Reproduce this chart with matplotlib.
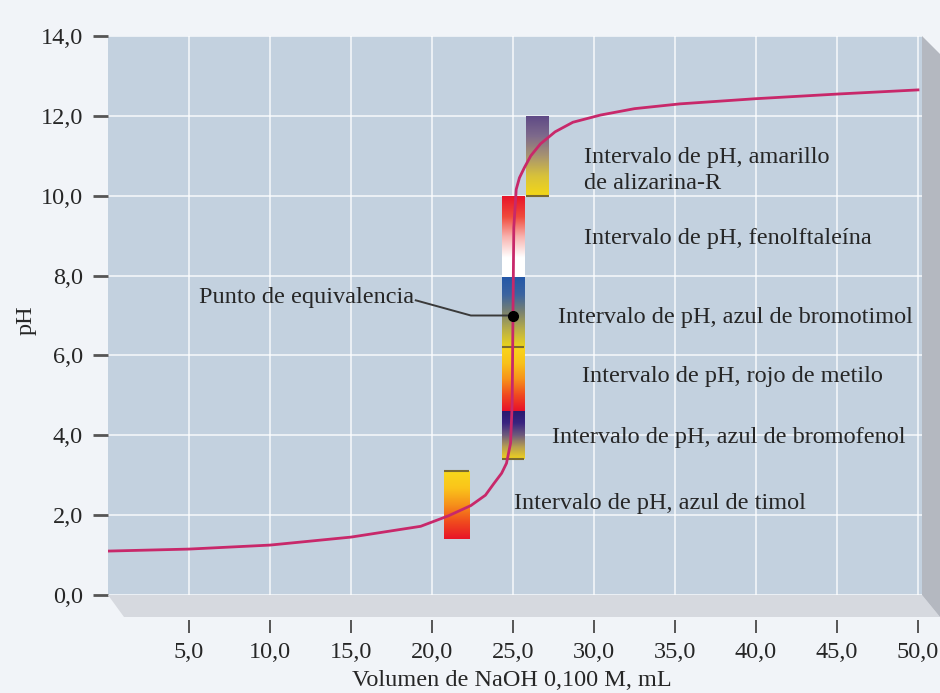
import matplotlib.pyplot as plt
import numpy as np
from matplotlib.colors import LinearSegmentedColormap
from matplotlib.patches import Polygon

plt.rcParams["font.family"] = ["Liberation Serif", "DejaVu Serif"]

# curva de valoración
volumen = [0, 5, 10, 15, 19.3, 21, 22.4, 23.3, 23.8, 24.3, 24.6, 24.85, 24.95,
           25.0, 25.05, 25.2, 25.4, 25.7, 26.1, 26.7, 27.6, 28.7, 30.4, 32.5,
           35.3, 40, 45.2, 50]
ph = [1.10, 1.15, 1.25, 1.45, 1.72, 1.98, 2.24, 2.50, 2.78, 3.05, 3.30, 3.8, 4.8,
      7.0, 9.2, 10.16, 10.45, 10.70, 11.0, 11.30, 11.60, 11.84, 12.02, 12.18,
      12.30, 12.43, 12.55, 12.65]

punto_eq = (25.0, 7.0)

# intervalos de viraje de los indicadores
indicadores = ["amarillo\nde alizarina-R", "fenolftaleína", "azul de bromotimol",
               "rojo de metilo", "azul de bromofenol", "azul de timol"]
ind_vol = [(25.8, 27.2), (24.3, 25.7), (24.3, 25.7), (24.3, 25.7), (24.3, 25.7), (20.75, 22.3)]
ind_ph = [(10.0, 12.0), (7.95, 10.0), (6.2, 7.95), (4.6, 6.2), (3.4, 4.6), (1.4, 3.1)]
# colores de abajo hacia arriba
ind_colores = [
    ["#f4d816", "#d8c23a", "#a89470", "#7e6a8c", "#5f4a86"],
    ["#ffffff", "#ffffff", "#f8b4b0", "#f04a3c", "#e8142a"],
    ["#ecd41c", "#b8ae48", "#7a8270", "#3c64a0", "#2458a8"],
    ["#e8102a", "#f04a20", "#f7921a", "#f9c21a", "#f8d61c"],
    ["#f0d21e", "#b8a050", "#6e5a7c", "#3a2480", "#2a1a70"],
    ["#e81428", "#f04a1e", "#f6901a", "#fbc41a", "#f7d81c"],
]

ticks_x = [5, 10, 15, 20, 25, 30, 35, 40, 45, 50]
ticks_y = [0, 2, 4, 6, 8, 10, 12, 14]

W, H = 940, 693
fig = plt.figure(figsize=(9.4, 6.93), dpi=100, facecolor="#f1f4f8")
ax = fig.add_axes([108 / W, 1 - 595 / H, (922 - 108) / W, (595 - 36) / H])
ax.set_facecolor("#c3d1df")


def px(x, y):
    return (x / W, 1 - y / H)


# caras en perspectiva de la caja
cara_inf = Polygon([px(108, 595), px(922, 595), px(940, 617), px(124, 617)],
                   closed=True, transform=fig.transFigure, facecolor="#d6d9df",
                   edgecolor="none", zorder=0)
cara_der = Polygon([px(922, 36), px(940, 54), px(940, 617), px(922, 595)],
                   closed=True, transform=fig.transFigure, facecolor="#b4b8c0",
                   edgecolor="none", zorder=0)
fig.patches.extend([cara_inf, cara_der])

ax.grid(True, color="white", linewidth=1.2, alpha=0.8)
ax.set_axisbelow(True)

rampa = np.linspace(0, 1, 256).reshape(-1, 1)
for nombre, (x0, x1), (y0, y1), cols in zip(indicadores, ind_vol, ind_ph, ind_colores):
    cmap = LinearSegmentedColormap.from_list(nombre, cols)
    ax.imshow(rampa, cmap=cmap, extent=[x0, x1, y0, y1], origin="lower",
              aspect="auto", interpolation="bilinear", zorder=3)

# bordes oscuros de algunas barras
ax.hlines([ind_ph[5][1], ind_ph[4][0], ind_ph[3][1], ind_ph[0][0]],
          [ind_vol[5][0], ind_vol[4][0], ind_vol[3][0], ind_vol[0][0]],
          [ind_vol[5][1], ind_vol[4][1], ind_vol[3][1], ind_vol[0][1]],
          colors="#7a6a30", linewidth=1.5, zorder=4)

ax.plot(volumen, ph, color="#c8286a", linewidth=2.0, zorder=5, solid_joinstyle="round")
ax.plot([19.0, 22.4, punto_eq[0]], [7.38, 7.0, punto_eq[1]], color="#3a3a3a",
        linewidth=1.4, zorder=5)
ax.plot(*punto_eq, "o", color="black", markersize=7, zorder=6)

fs = 17.5
tc = "#262626"
ax.text(5.6, 7.45, "Punto de equivalencia", fontsize=fs, color=tc, va="center")
etiquetas_pos = [(29.37, 10.63), (29.37, 8.94), (27.77, 6.96),
                 (29.25, 5.48), (27.4, 3.95), (25.06, 2.29)]
for nombre, (tx, ty) in zip(indicadores, etiquetas_pos):
    ax.text(tx, ty, "Intervalo de pH, " + nombre, fontsize=fs, color=tc,
            va="center", ha="left", linespacing=1.3)

ax.set_xlim(0, 50.25)
ax.set_ylim(0, 14)
ax.set_xticks(ticks_x)
ax.set_xticklabels([f"{v:.1f}".replace(".", ",") for v in ticks_x])
ax.set_yticks(ticks_y)
ax.set_yticklabels([f"{v:.1f}".replace(".", ",") for v in ticks_y])

for s in ax.spines.values():
    s.set_visible(False)
ax.spines["bottom"].set_position(("outward", 18))
ax.tick_params(axis="x", length=9, width=1.4, color="#555555", pad=7,
               labelsize=fs, labelcolor=tc)
ax.tick_params(axis="y", length=11, width=2, color="#555555", pad=7,
               labelsize=fs, labelcolor=tc)

fig.text(512 / W, 1 - 681 / H, "Volumen de NaOH 0,100 M, mL", fontsize=fs,
         color=tc, ha="center", va="center")
fig.text(26 / W, 1 - 320 / H, "pH", fontsize=fs, color=tc, ha="center",
         va="center", rotation=90)

fig.savefig("out.png", dpi=100, facecolor=fig.get_facecolor())
